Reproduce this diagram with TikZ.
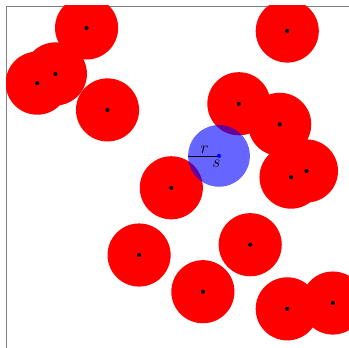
\documentclass[tikz,border=0pt]{standalone}
\usepackage{amsmath}
\usepackage{tikz}

\begin{document}
\begin{tikzpicture}
\useasboundingbox (-0.175,0.029) rectangle (10,10.175);
\draw[gray, line width=0.6pt] (0,0) |- (10,10); % frame
\begin{scope}
\clip (0,0) rectangle (10,10);
% red disks
\fill[red] (2.35,9.36) circle(0.92);
\fill[red] (1.44,8.02) circle(0.92);
\fill[red] (0.91,7.75) circle(0.92);
\fill[red] (2.96,6.97) circle(0.92);
\fill[red] (8.20,9.27) circle(0.92);
\fill[red] (6.79,7.15) circle(0.92);
\fill[red] (7.98,6.55) circle(0.92);
\fill[red] (8.76,5.19) circle(0.92);
\fill[red] (8.31,5.01) circle(0.92);
\fill[red] (7.12,3.04) circle(0.92);
\fill[red] (5.74,1.67) circle(0.92);
\fill[red] (8.20,1.17) circle(0.92);
\fill[red] (9.53,1.34) circle(0.92);
\fill[red] (4.82,4.70) circle(0.92);
\fill[red] (3.88,2.74) circle(0.92);
% centres
\fill[black] (2.35,9.36) circle(0.06);
\fill[black] (1.44,8.02) circle(0.06);
\fill[black] (0.91,7.75) circle(0.06);
\fill[black] (2.96,6.97) circle(0.06);
\fill[black] (8.20,9.27) circle(0.06);
\fill[black] (6.79,7.15) circle(0.06);
\fill[black] (7.98,6.55) circle(0.06);
\fill[black] (8.76,5.19) circle(0.06);
\fill[black] (8.31,5.01) circle(0.06);
\fill[black] (7.12,3.04) circle(0.06);
\fill[black] (5.74,1.67) circle(0.06);
\fill[black] (8.20,1.17) circle(0.06);
\fill[black] (9.53,1.34) circle(0.06);
\fill[black] (4.82,4.70) circle(0.06);
\fill[black] (3.88,2.74) circle(0.06);
\end{scope}
% search disk
\coordinate (s) at (6.21,5.63);
\coordinate (rim) at (5.31,5.63);
\fill[blue, opacity=0.6] (s) circle(0.90);
\draw[line width=0.5pt] (rim) -- (s);
\fill[blue] (s) circle(0.06);
\node[inner sep=1pt, font=\Large] (rlabel) at (5.79,5.80) {$r$};
\node[inner sep=1pt, font=\Large] (slabel) at (6.13,5.40) {$s$};
\end{tikzpicture}
\end{document}
